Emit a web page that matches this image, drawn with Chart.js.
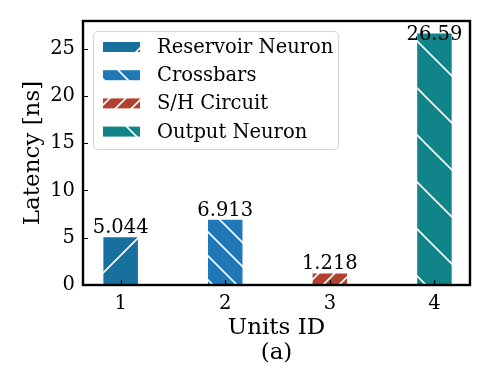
<!DOCTYPE html>
<html lang="en">
<head>
  <meta charset="UTF-8">
  <title>Latency per unit</title>
  <script src="https://cdn.jsdelivr.net/npm/chart.js"></script>
  <style>
    body { margin: 0; background: #fff; }
    #wrap { width: 491px; height: 392px; }
  </style>
</head>
<body>
  <div id="wrap"><canvas id="chartCanvas" width="491" height="392"></canvas></div>

  <script>
    // data
    const unitIds = [1, 2, 3, 4];
    const unitNames = ["Reservoir Neuron", "Crossbars", "S/H Circuit", "Output Neuron"];
    const latencies = [5.044, 6.913, 1.218, 26.59];
    const yTicks = [0, 5, 10, 15, 20, 25];

    const colors = ["#18709f", "#2079b6", "#b4402f", "#11848a"];
    const hatchDir = ["/", "\\", "/", "\\"];
    const hatchPeriod = [47, 24, 16, 47];
    const FONT = "'DejaVu Serif', serif";

    function hatch(color, period, dir) {
      const c = document.createElement('canvas');
      c.width = c.height = period;
      const g = c.getContext('2d');
      g.fillStyle = color;
      g.fillRect(0, 0, period, period);
      g.strokeStyle = '#fff';
      g.lineWidth = 1.6;
      g.beginPath();
      if (dir === '/') {
        g.moveTo(-2, period + 2); g.lineTo(period + 2, -2);
        g.moveTo(-2, 2); g.lineTo(2, -2);
        g.moveTo(period - 2, period + 2); g.lineTo(period + 2, period - 2);
      } else {
        g.moveTo(-2, -2); g.lineTo(period + 2, period + 2);
        g.moveTo(period - 2, -2); g.lineTo(period + 2, 2);
        g.moveTo(-2, period - 2); g.lineTo(2, period + 2);
      }
      g.stroke();
      return g.createPattern(c, 'repeat');
    }

    const ctx = document.getElementById('chartCanvas').getContext('2d');
    const fills = colors.map((c, i) => hatch(c, hatchPeriod[i], hatchDir[i]));

    // frame, inward ticks, value labels, legend inside the plot
    const extras = {
      id: 'extras',
      afterDatasetsDraw(chart) {
        const c = chart.ctx;
        const a = chart.chartArea;
        const xs = chart.scales.x, ys = chart.scales.y;
        c.save();
        c.strokeStyle = '#000';
        c.lineWidth = 1.2;
        c.beginPath();
        unitIds.forEach(v => {
          const px = Math.round(xs.getPixelForValue(v)) + 0.5;
          c.moveTo(px, a.bottom); c.lineTo(px, a.bottom - 5);
        });
        yTicks.forEach(v => {
          const py = Math.round(ys.getPixelForValue(v)) + 0.5;
          c.moveTo(a.left, py); c.lineTo(a.left + 5, py);
        });
        c.stroke();

        // value labels, kept inside the plot area
        c.fillStyle = '#000';
        c.font = '19.5px ' + FONT;
        c.textAlign = 'center';
        c.textBaseline = 'alphabetic';
        chart.data.datasets.forEach((ds, i) => {
          const el = chart.getDatasetMeta(i).data[0];
          const y = Math.max(el.y - 4, a.top + 19);
          c.fillText(String(latencies[i]), el.x, y);
        });

        c.lineWidth = 2.4;
        c.strokeRect(a.left, a.top, a.right - a.left, a.bottom - a.top);

        // legend
        const bx = 93.5, by = 31.5, bw = 245, bh = 118;
        c.beginPath();
        c.roundRect(bx, by, bw, bh, 4);
        c.fillStyle = 'rgba(255,255,255,0.8)';
        c.fill();
        c.strokeStyle = '#d4d4d4';
        c.lineWidth = 1;
        c.stroke();
        c.font = '19.5px ' + FONT;
        c.textAlign = 'left';
        c.textBaseline = 'middle';
        chart.data.datasets.forEach((ds, i) => {
          const cy = 47 + i * 28.2;
          c.fillStyle = ds.backgroundColor;
          c.fillRect(103, cy - 5, 37, 10);
          c.fillStyle = '#000';
          c.fillText(ds.label, 157, cy + 1);
        });
        c.restore();
      }
    };

    new Chart(ctx, {
      type: 'bar',
      data: {
        datasets: unitNames.map((name, i) => ({
          label: name,
          data: [{ x: unitIds[i], y: latencies[i] }],
          backgroundColor: fills[i],
          borderWidth: 0,
          grouped: false,
          categoryPercentage: 1,
          barPercentage: 0.33
        }))
      },
      options: {
        responsive: false,
        animation: false,
        layout: { padding: { left: 0, top: 21, right: 21, bottom: 0 } },
        plugins: { legend: { display: false }, tooltip: { enabled: false } },
        scales: {
          x: {
            type: 'linear',
            offset: false,
            min: 0.64,
            max: 4.34,
            afterBuildTicks: s => { s.ticks = unitIds.map(v => ({ value: v })); },
            afterFit: s => { s.height = 107; },
            grid: { display: false, drawTicks: false },
            border: { display: false },
            ticks: { color: '#000', font: { family: FONT, size: 19.5 }, padding: 7, maxRotation: 0 },
            title: {
              display: true,
              text: ['Units ID', '(a)'],
              color: '#000',
              font: { family: FONT, size: 23, lineHeight: 1.09 },
              padding: { top: 0, bottom: 26 }
            }
          },
          y: {
            min: 0,
            max: 27.92,
            afterBuildTicks: s => { s.ticks = yTicks.map(v => ({ value: v })); },
            afterFit: s => { s.width = 83; },
            grid: { display: false, drawTicks: false },
            border: { display: false },
            ticks: { color: '#000', font: { family: FONT, size: 19.5 }, padding: 8 },
            title: {
              display: true,
              text: 'Latency [ns]',
              color: '#000',
              font: { family: FONT, size: 23 },
              padding: { top: 19, bottom: 0 }
            }
          }
        }
      },
      plugins: [extras]
    });
  </script>
</body>
</html>
